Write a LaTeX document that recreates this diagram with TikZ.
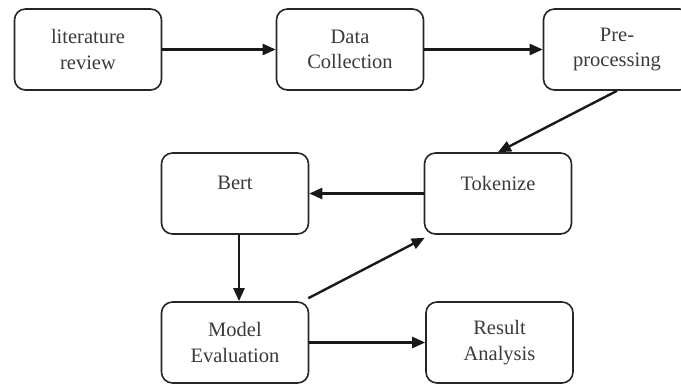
\documentclass[tikz,border=0pt]{standalone}
\usepackage{fontspec}
\setmainfont{Liberation Serif}
\usetikzlibrary{arrows.meta}
\definecolor{txt}{HTML}{3A3A3A}
\tikzset{
  box/.style={draw=black!85, line width=1.6pt, rounded corners=11pt, minimum width=147pt, minimum height=81pt,
    align=center, font=\fontsize{20.5}{25.5}\selectfont, text=txt, inner sep=0pt},
  conn/.style={line width=2.4pt, draw=black!90, -{Triangle[length=13pt,width=11pt]}},
}
\begin{document}
\begin{tikzpicture}[x=1pt,y=-1pt]
\useasboundingbox (0,0) rectangle (681,385);
\clip (0,0) rectangle (681,385);
\node[box] (lit) at (88,49.5) {literature\\review};
\node[box] (data) at (350,49.5) {Data\\Collection};
\node[box] (pre) at (617,49.5) {Pre-\\processing};
\node[box] (bert) at (235,193.5) {Bert\\[-12pt]\strut};
\node[box] (tok) at (498,193.5) {Tokenize\\[-12pt]\strut};
\node[box] (me) at (235,342.5) {Model\\Evaluation};
\node[box] (ra) at (499.5,342.5) {Result\\Analysis};
\draw[conn] (lit.east) -- (data.west);
\draw[conn] (data.east) -- (pre.west);
\draw[conn] (pre.south) -- (tok.north);
\draw[conn] (tok.west) -- (bert.east);
\draw[conn] ([xshift=4pt]bert.south) -- ([xshift=4pt]me.north);
\draw[conn] ([xshift=-1pt,yshift=3pt]me.north east) -- ([xshift=1pt,yshift=-3pt]tok.south west);
\draw[conn] (me.east) -- (ra.west);
\end{tikzpicture}
\end{document}
